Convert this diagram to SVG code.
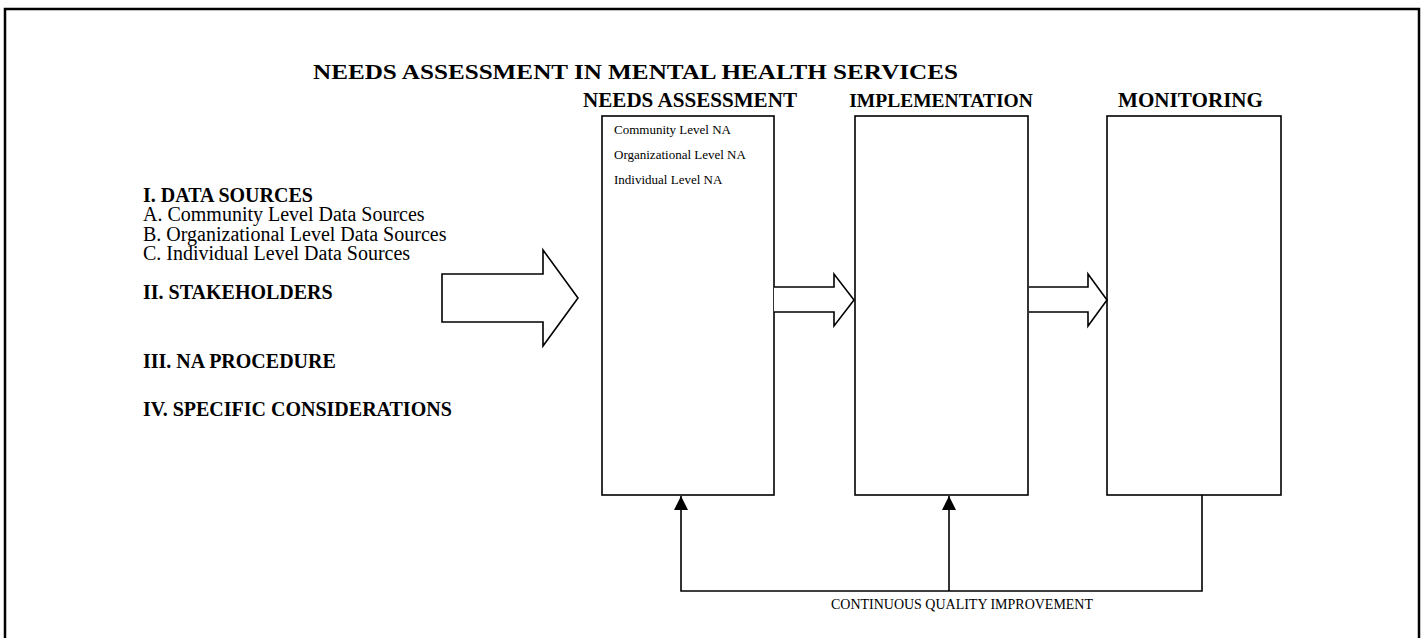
<svg xmlns="http://www.w3.org/2000/svg" width="1424" height="638" viewBox="0 0 1424 638">
<style>
.hb{font-family:"Liberation Serif","Times New Roman",serif;font-weight:bold;font-size:20px;fill:#000}
.lt{font-family:"Liberation Serif","Times New Roman",serif;font-size:20px;fill:#000}
.sm{font-family:"Liberation Serif","Times New Roman",serif;font-size:13px;fill:#000}
.cq{font-family:"Liberation Serif","Times New Roman",serif;font-size:14px;fill:#000}
.box{fill:#fff;stroke:#000;stroke-width:1.6}
.ln{fill:none;stroke:#000;stroke-width:1.6}
.ar{fill:#fff;stroke:#000;stroke-width:1.6;stroke-linejoin:miter}
</style>
<defs>
<marker id="tri" viewBox="0 0 10 10" refX="10" refY="5" markerWidth="15" markerHeight="14" markerUnits="userSpaceOnUse" orient="auto">
<path d="M0,0 L10,5 L0,10 z" fill="#000"/>
</marker>
</defs>
<rect x="0" y="0" width="1424" height="638" fill="#fff"/>
<rect x="5" y="9" width="1414" height="640" fill="none" stroke="#000" stroke-width="2.5"/>
<text class="hb" x="313" y="79" textLength="645" lengthAdjust="spacingAndGlyphs">NEEDS ASSESSMENT IN MENTAL HEALTH SERVICES</text>
<g id="sources">
<text class="hb" x="143" y="202">I. DATA SOURCES</text>
<text class="lt" x="143" y="221">A. Community Level Data Sources</text>
<text class="lt" x="143" y="241">B. Organizational Level Data Sources</text>
<text class="lt" x="143" y="260">C. Individual Level Data Sources</text>
<text class="hb" x="143" y="299">II. STAKEHOLDERS</text>
<text class="hb" x="143" y="368">III. NA PROCEDURE</text>
<text class="hb" x="143" y="416">IV. SPECIFIC CONSIDERATIONS</text>
</g>
<g id="needs-assessment">
<text class="hb" x="583" y="107" textLength="214" lengthAdjust="spacingAndGlyphs">NEEDS ASSESSMENT</text>
<rect class="box" x="602" y="116" width="172" height="379"/>
<text class="sm" x="614" y="134">Community Level NA</text>
<text class="sm" x="614" y="159">Organizational Level NA</text>
<text class="sm" x="614" y="184">Individual Level NA</text>
</g>
<g id="implementation">
<text class="hb" x="941" y="107" text-anchor="middle" style="font-size:19.5px">IMPLEMENTATION</text>
<rect class="box" x="855" y="116" width="173" height="379" stroke-width="2.2"/>
</g>
<g id="monitoring">
<text class="hb" x="1118" y="107" textLength="145" lengthAdjust="spacingAndGlyphs">MONITORING</text>
<rect class="box" x="1107" y="116" width="174" height="379"/>
</g>
<g id="connectors">
<path class="ar" d="M442,274 L543,274 L543,250 L578,298 L543,346 L543,322 L442,322 Z"/>
<path class="ar" d="M774,287 L834,287 L834,274 L854,300 L834,326 L834,312 L774,312"/>
<path class="ar" d="M1029,287 L1088,287 L1088,274 L1107,300 L1088,326 L1088,312 L1029,312"/>
<path class="ln" d="M1202,495 L1202,591 L681,591 L681,496" marker-end="url(#tri)"/>
<path class="ln" d="M949,591 L949,496" marker-end="url(#tri)"/>
<text class="cq" x="831" y="609" textLength="262" lengthAdjust="spacingAndGlyphs">CONTINUOUS QUALITY IMPROVEMENT</text>
</g>
</svg>
